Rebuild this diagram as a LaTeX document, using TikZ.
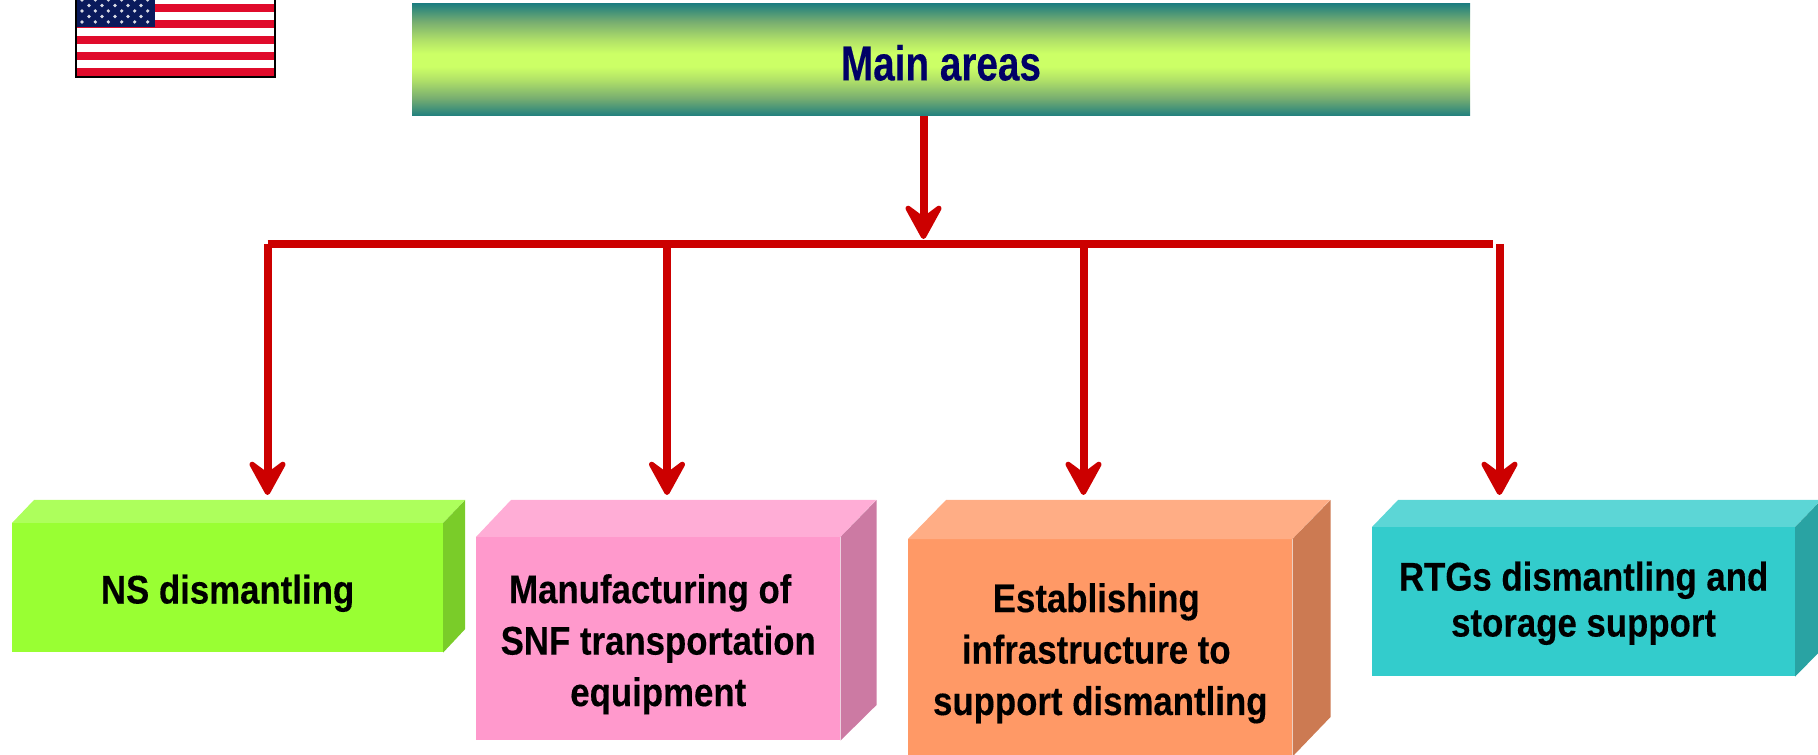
\documentclass[tikz,border=0pt]{standalone}
\usepackage{fontspec}
\usepackage{tikz}
\usetikzlibrary{arrows.meta}
\newfontfamily\boxfont[FakeStretch=0.87,BoldFeatures={FakeBold=0.25}]{Liberation Sans}
\newfontfamily\mainfont[FakeStretch=0.79,BoldFeatures={FakeBold=0.25}]{Liberation Sans}
\definecolor{tealedge}{HTML}{1F7F7F}
\definecolor{tealmid}{HTML}{78AE70}
\definecolor{limelow}{HTML}{B0E068}
\definecolor{limemid}{HTML}{CCFF66}
\definecolor{arrowred}{HTML}{CC0000}
\definecolor{navytext}{HTML}{000066}
\definecolor{flagred}{HTML}{E00B2B}
\definecolor{flagblue}{HTML}{0A1A5C}
\definecolor{nsfront}{HTML}{99FF33}
\definecolor{nstop}{HTML}{ADFF5C}
\definecolor{nsside}{HTML}{7ACC29}
\definecolor{snffront}{HTML}{FF99CC}
\definecolor{snftop}{HTML}{FFADD6}
\definecolor{snfside}{HTML}{CC7AA3}
\definecolor{inffront}{HTML}{FF9966}
\definecolor{inftop}{HTML}{FFAD85}
\definecolor{infside}{HTML}{CC7A52}
\definecolor{rtgfront}{HTML}{33CCCC}
\definecolor{rtgtop}{HTML}{5CD6D6}
\definecolor{rtgside}{HTML}{29A3A3}
\pgfdeclareverticalshading{mainshade}{100bp}{color(0bp)=(tealedge); color(25bp)=(tealedge); color(33bp)=(tealmid); color(41bp)=(limelow); color(47bp)=(limemid); color(53bp)=(limemid); color(59bp)=(limelow); color(67bp)=(tealmid); color(75bp)=(tealedge); color(100bp)=(tealedge)}

\begin{document}
\begin{tikzpicture}
    [x=0.75pt, y=-0.75pt,
     mainbox/.style={rectangle, shading=mainshade, text=navytext, minimum width=793.5pt, minimum height=84pt, font=\mainfont\bfseries\fontsize{36.75}{40}\selectfont},
     front/.style={rectangle, anchor=north west, align=center, inner sep=0pt, font=\boxfont\bfseries\fontsize{30}{38.6}\selectfont},
     bar/.style={draw=arrowred, line width=6pt},
     link/.style={draw=arrowred, line width=6pt, -{Stealth[round, line width=4pt, length=32pt, width=35pt, inset=13pt]}}]

    \clip (0,0) rectangle (1818,755);

    % flag
    \fill [white] (76,-5) rectangle (275,78);
    \foreach \y in {4,20,36,52,68}
        \fill [flagred] (76,\y) rectangle (275,\y+8);
    \fill [flagblue] (76,-5) rectangle (155,27);
    \foreach \y in {0,11,22}
        \foreach \x in {82,95.3,108.3,121.7,134.7,147.7}
            \fill [white!85!flagblue] (\x,\y) circle [radius=1.8];
    \foreach \y in {5.5,16.5}
        \foreach \x in {89,102,115,128,141}
            \fill [white!85!flagblue] (\x,\y) circle [radius=1.8];
    \draw [black, line width=1.5pt] (76,-5) rectangle (275,77.5);

    \node [mainbox] (main) at (941,60) {\rule{0pt}{31pt}Main areas};

    % fronts of the four boxes
    \node [front, fill=nsfront, minimum width=323pt, minimum height=96.75pt] (ns) at (12,523) {\rule{0pt}{30pt}NS dismantling};
    \node [front, fill=snffront, minimum width=273pt, minimum height=152.25pt] (snf) at (476,537) {\rule{0pt}{30pt}\hspace*{-12pt}Manufacturing of\\SNF transportation\\equipment};
    \node [front, fill=inffront, minimum width=288pt, minimum height=162.75pt] (inf) at (908,539) {\rule{0pt}{30pt}\hspace*{-6pt}Establishing\\\hspace*{-6pt}infrastructure to\\support dismantling};
    \node [front, fill=rtgfront, minimum width=317pt, minimum height=111.75pt, font=\boxfont\bfseries\fontsize{30}{34.5}\selectfont] (rtg) at (1372,527) {\rule{0pt}{24pt}RTGs dismantling and\\storage support};

    % tops and sides
    \fill [nstop] (ns.north west) -- ++(22,-23) -- ++(431,0) -- (ns.north east) -- cycle;
    \fill [nsside] (ns.north east) -- ++(22,-23) -- ++(0,129) -- (ns.south east) -- cycle;
    \fill [snftop] (snf.north west) -- ++(35,-37) -- ++(365,0) -- (snf.north east) -- cycle;
    \fill [snfside] (snf.north east) -- ++(36,-37) -- ++(0,205) -- (snf.south east) -- cycle;
    \fill [inftop] (inf.north west) -- ++(38,-39) -- ++(384,0) -- (inf.north east) -- cycle;
    \fill [infside] (inf.north east) -- ++(38,-39) -- ++(0,217) -- (inf.south east) -- cycle;
    \fill [rtgtop] (rtg.north west) -- ++(26,-27) -- ++(423,0) -- (rtg.north east) -- cycle;
    \fill [rtgside] (rtg.north east) -- ++(26,-27) -- ++(0,150) -- (rtg.south east) -- cycle;

    \coordinate (trunktip) at (923.5,239);
    \coordinate (barl) at (267.5,244);
    \coordinate (barm) at (667,244);
    \coordinate (barn) at (1083.5,244);
    \coordinate (barr) at (1493,244);
    \coordinate (lastroot) at (1499.5,244);
    \coordinate (nstip) at (267.5,495);
    \coordinate (snftip) at (667,495);
    \coordinate (inftip) at (1083.5,495);
    \coordinate (rtgtip) at (1499.5,495);

    \draw [link] (trunktip |- main.south) -- (trunktip);
    \draw [bar] (barl) -- (barr);
    \draw [link] (barl) -- (nstip);
    \draw [link] (barm) -- (snftip);
    \draw [link] (barn) -- (inftip);
    \draw [link] (lastroot) -- (rtgtip);
\end{tikzpicture}
\end{document}
